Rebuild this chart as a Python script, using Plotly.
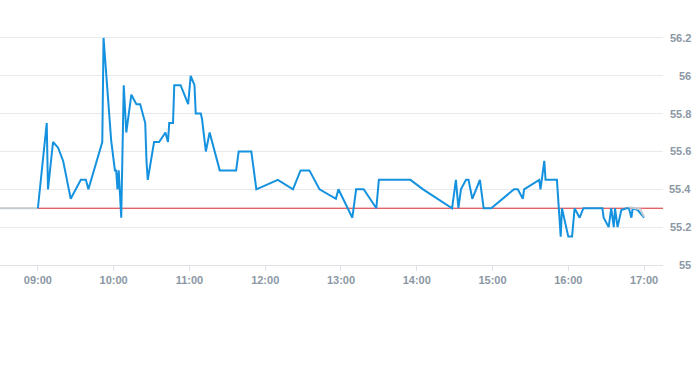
import plotly.graph_objects as go

DAY = "2024-01-02 "

times = ["09:00", "09:04", "09:07", "09:08", "09:12", "09:16", "09:20", "09:26", "09:34", "09:38",
         "09:40", "09:51", "09:52", "09:58", "10:01", "10:02", "10:03", "10:04", "10:06", "10:08",
         "10:10", "10:14", "10:18", "10:21", "10:25", "10:26", "10:27", "10:32", "10:36", "10:41",
         "10:43", "10:44", "10:47", "10:48", "10:53", "10:59", "11:01", "11:04", "11:05", "11:09",
         "11:10", "11:13", "11:16", "11:24", "11:37", "11:39", "11:49", "11:53", "12:10", "12:22",
         "12:28", "12:35", "12:43", "12:56", "12:58", "13:09", "13:12", "13:18", "13:28", "13:30",
         "13:55", "14:05", "14:28", "14:31", "14:33", "14:35", "14:39", "14:41", "14:44", "14:50",
         "14:53", "14:59", "15:17", "15:20", "15:24", "15:25", "15:37", "15:38", "15:41", "15:42",
         "15:51", "15:54", "15:55", "16:00", "16:03", "16:05", "16:09", "16:12", "16:27", "16:28",
         "16:32", "16:34", "16:36", "16:37", "16:39", "16:42", "16:46", "16:48", "16:50", "16:51",
         "16:55", "17:00"]
prices = [55.30, 55.55, 55.75, 55.40, 55.65, 55.62, 55.55, 55.35, 55.45, 55.45,
          55.40, 55.65, 56.20, 55.66, 55.50, 55.50, 55.40, 55.50, 55.25, 55.95,
          55.70, 55.90, 55.85, 55.85, 55.75, 55.55, 55.45, 55.65, 55.65, 55.70,
          55.65, 55.75, 55.75, 55.95, 55.95, 55.85, 56.00, 55.95, 55.80, 55.80,
          55.77, 55.60, 55.70, 55.50, 55.50, 55.60, 55.60, 55.40, 55.45, 55.40,
          55.50, 55.50, 55.40, 55.35, 55.40, 55.25, 55.40, 55.40, 55.30, 55.45,
          55.45, 55.40, 55.30, 55.45, 55.30, 55.40, 55.45, 55.45, 55.35, 55.45,
          55.30, 55.30, 55.40, 55.40, 55.35, 55.40, 55.45, 55.40, 55.55, 55.45,
          55.45, 55.15, 55.30, 55.15, 55.15, 55.30, 55.25, 55.30, 55.30, 55.25,
          55.20, 55.30, 55.20, 55.30, 55.20, 55.29, 55.30, 55.30, 55.25, 55.30,
          55.29, 55.25]

avg_times = ["16:48", "16:57", "17:00"]
avg_prices = [55.305, 55.295, 55.255]

prev_close = 55.30
pre_times = ["08:30", "09:00"]
ref_times = ["09:00", "17:15"]

x_ticks = ["09:00", "10:00", "11:00", "12:00", "13:00", "14:00", "15:00", "16:00", "17:00"]
y_ticks = [55.0, 55.2, 55.4, 55.6, 55.8, 56.0, 56.2]
y_labels = ["55", "55.2", "55.4", "55.6", "55.8", "56", "56.2"]

fig = go.Figure()
fig.add_trace(go.Scatter(x=[DAY + t for t in pre_times], y=[prev_close] * len(pre_times),
                         mode="lines", line=dict(color="#c3c9cf", width=2), hoverinfo="skip"))
fig.add_trace(go.Scatter(x=[DAY + t for t in ref_times], y=[prev_close] * len(ref_times),
                         mode="lines", line=dict(color="#d7282f", width=1), hoverinfo="skip"))
fig.add_trace(go.Scatter(x=[DAY + t for t in times], y=prices,
                         mode="lines", line=dict(color="#1592df", width=2)))
fig.add_trace(go.Scatter(x=[DAY + t for t in avg_times], y=avg_prices,
                         mode="lines", line=dict(color="#c6ccd2", width=2), opacity=0.9))

font = dict(family="Liberation Sans, Arial, sans-serif", size=11, color="#8b97a5", weight="bold")

for v, lab in zip(y_ticks, y_labels):
    fig.add_annotation(x=1, xref="paper", y=v, yref="y", text=lab, showarrow=False,
                       xanchor="right", yanchor="middle", xshift=30, font=font)

fig.update_layout(
    width=693, height=365,
    margin=dict(l=0, r=30, t=19, b=100),
    paper_bgcolor="white", plot_bgcolor="white",
    showlegend=False,
    xaxis=dict(
        range=[DAY + "08:30", DAY + "17:15"],
        tickmode="array",
        tickvals=[DAY + t for t in x_ticks],
        ticktext=x_ticks,
        showgrid=False,
        showline=True, linecolor="#dfe3e8", linewidth=1,
        ticks="outside", ticklen=5, tickcolor="#dfe3e8",
        tickfont=font,
        zeroline=False,
    ),
    yaxis=dict(
        range=[55.0, 56.3],
        tickmode="array",
        tickvals=y_ticks,
        showticklabels=False,
        showgrid=True, gridcolor="#e6e9ed", gridwidth=1,
        zeroline=False,
        side="right",
    ),
)

fig.write_html("out.html", config={"displayModeBar": False},
               post_script="document.body.style.margin='0';document.body.style.overflow='hidden';")
